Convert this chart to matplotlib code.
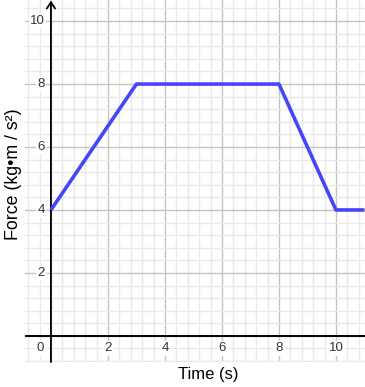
import matplotlib
matplotlib.use("Agg")
import matplotlib.pyplot as plt
import numpy as np

plt.rcParams['font.family'] = ['Liberation Sans', 'DejaVu Sans']

time_s = [0, 3, 8, 10, 11]
force = [4, 8, 8, 4, 4]
x_ticks = [0, 2, 4, 6, 8, 10]
y_ticks = [2, 4, 6, 8, 10]

XMIN, XMAX = -0.91, 11.02
YMIN, YMAX = -0.83, 10.67

fig = plt.figure(figsize=(3.65, 3.87), dpi=100)
ax = fig.add_axes([25/365, 25/387, 340/365, 362/387])
ax.set_xlim(XMIN, XMAX)
ax.set_ylim(YMIN, YMAX)
for s in ax.spines.values():
    s.set_visible(False)
ax.set_xticks([]); ax.set_yticks([])

# grid
minor = 0.4
for v in np.arange(-0.8, XMAX, minor):
    major = abs(round(v / 2) * 2 - v) < 1e-6
    ax.axvline(v, color='#c4c4c4' if major else '#e9e9e9', lw=1.0, zorder=0)
for v in np.arange(-0.8, YMAX, minor):
    major = abs(round(v / 2) * 2 - v) < 1e-6
    ax.axhline(v, color='#c4c4c4' if major else '#e9e9e9', lw=1.0, zorder=0)

# axes lines
ax.axhline(0, color='black', lw=1.4, zorder=2)
ax.annotate('', xy=(0, YMAX - 0.02), xytext=(0, YMIN),
            arrowprops=dict(arrowstyle='->,head_length=0.45,head_width=0.3', color='black', lw=1.3,
                            shrinkA=0, shrinkB=0), zorder=2)

# tick labels
bb = dict(boxstyle='square,pad=0.1', fc='white', ec='none')
for x in x_ticks:
    if x == 0:
        ax.annotate('0', xy=(0, 0), xytext=(-5, -9), textcoords='offset points',
                    ha='right', va='center', fontsize=9.5, color='#333333', bbox=bb, zorder=3)
    else:
        ax.annotate(str(x), xy=(x, 0), xytext=(0, -9), textcoords='offset points',
                    ha='center', va='center', fontsize=9.5, color='#333333', bbox=bb, zorder=3)
for y in y_ticks:
    ax.annotate(str(y), xy=(0, y), xytext=(-4.3, 0), textcoords='offset points',
                ha='right', va='center', fontsize=9.5, color='#333333', bbox=bb, zorder=3)

ax.plot(time_s, force, color='#4646f8', lw=2.6, solid_capstyle='butt', zorder=4, clip_on=False)

fig.text(208/365, 1 - 375/387, 'Time (s)', ha='center', va='center', fontsize=12)
fig.text(14/365, 1 - 174/387, 'Force (kg•m / s²)', ha='center', va='center',
         rotation=90, fontsize=12.8)

fig.savefig('out.png', dpi=100)
